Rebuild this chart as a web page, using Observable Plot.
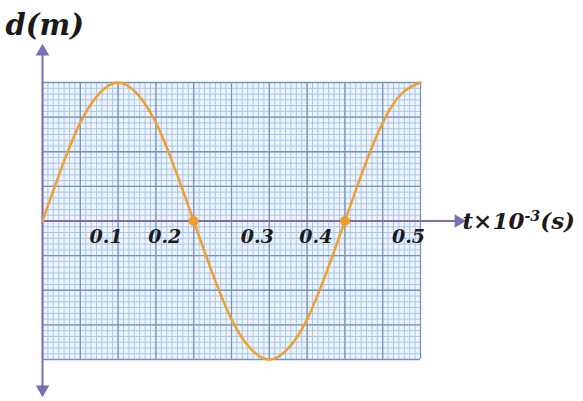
<!DOCTYPE html>
<html>
<head>
<meta charset="utf-8">
<script src="https://cdn.jsdelivr.net/npm/d3@7"></script>
<script src="https://cdn.jsdelivr.net/npm/@observablehq/plot@0.6"></script>
<style>
  html, body { margin: 0; padding: 0; background: #ffffff; }
  #chart svg { display: block; }
</style>
</head>
<body>
<div id="chart"></div>
<script>
// Displacement d (m) against time t (×10⁻³ s), sampled every 0.025
const times = [0, 0.025, 0.05, 0.075, 0.1, 0.125, 0.15, 0.175, 0.2, 0.225, 0.25,
               0.275, 0.3, 0.325, 0.35, 0.375, 0.4, 0.425, 0.45, 0.475, 0.5];
const displacement = [0, 0.38, 0.71, 0.92, 1, 0.92, 0.71, 0.38, 0, -0.38, -0.71,
                      -0.92, -1, -0.92, -0.71, -0.38, 0, 0.38, 0.71, 0.92, 1];

// Tick labels along the time axis
const tickValues = [0.1, 0.2, 0.3, 0.4, 0.5];
const tickLabels = ["0.1", "0.2", "0.3", "0.4", "0.5"];

// Times where the wave crosses the axis (marked with dots)
const crossings = [0.2, 0.4];

// Axis titles; the time title is split so the exponent can be raised
const yTitle = "d(m)";
const xTitleParts = ["t×10", "-3", "(s)"];
const xTitle = xTitleParts.join("");

const wave = times.map((t, i) => ({t, d: displacement[i]}));
const ticks = tickValues.map((t, i) => ({t, label: tickLabels[i], crossing: crossings.includes(t)}));

// Graph-paper grid: 10 major columns of 7, 8 major rows of 6
const majorX = d3.range(0, 10 + 1).map(i => i * 0.05);
const minorX = d3.range(0, 70 + 1).map(i => i * 0.05 / 7);
const majorY = d3.range(0, 8 + 1).map(i => -1 + i * 0.25);
const minorY = d3.range(0, 48 + 1).map(i => -1 + i * 0.25 / 6);

const serif = "DejaVu Serif, serif";
const axisColor = "#7f6db4";
const waveColor = "#f0a030";
const ink = "#1a1a1a";
const labelFont = {fontFamily: serif, fontWeight: "bold", fontStyle: "italic", fill: ink};

const chart = Plot.plot({
  width: 583,
  height: 401,
  marginLeft: 42,
  marginRight: 163,
  marginTop: 82,
  marginBottom: 42,
  x: {domain: [0, 0.5], axis: null},
  y: {domain: [-1, 1], axis: null},
  style: {background: "#ffffff", overflow: "visible"},
  marks: [
    Plot.frame({fill: "#eef4fc", stroke: null}),
    Plot.ruleX(minorX, {stroke: "#a9c5e8", strokeWidth: 1}),
    Plot.ruleY(minorY, {stroke: "#a9c5e8", strokeWidth: 1}),
    Plot.ruleX(majorX, {stroke: "#7594c3", strokeWidth: 1.3}),
    Plot.ruleY(majorY, {stroke: "#7594c3", strokeWidth: 1.3}),

    // axes, extended past the grid, with triangular heads
    Plot.arrow([{x1: 0, y1: 0, x2: 0.5, y2: 0}], {
      x1: "x1", y1: "y1", x2: "x2", y2: "y2", insetEnd: -36, headLength: 0,
      stroke: axisColor, strokeWidth: 2
    }),
    Plot.arrow([{x1: 0, y1: -1, x2: 0, y2: 1}], {
      x1: "x1", y1: "y1", x2: "x2", y2: "y2", insetStart: -28, insetEnd: -30, headLength: 0,
      stroke: axisColor, strokeWidth: 2
    }),
    Plot.dot([{x: 0.5, y: 0}], {x: "x", y: "y", dx: 38, symbol: "triangle", rotate: 90, r: 5, fill: axisColor, stroke: null}),
    Plot.dot([{x: 0, y: 1}], {x: "x", y: "y", dy: -31, symbol: "triangle", rotate: 0, r: 5, fill: axisColor, stroke: null}),
    Plot.dot([{x: 0, y: -1}], {x: "x", y: "y", dy: 30, symbol: "triangle", rotate: 180, r: 5, fill: axisColor, stroke: null}),

    // the wave
    Plot.line(wave, {x: "t", y: "d", curve: "natural", stroke: waveColor, strokeWidth: 2.5}),
    Plot.dot(crossings.map(t => ({t, d: 0})), {x: "t", y: "d", r: 5, fill: "#f39a2c", stroke: null}),

    // tick labels (the ones at crossings are nudged clear of the dots)
    Plot.text(ticks.filter(d => !d.crossing), {
      x: "t", y: () => 0, text: "label", dx: -12, dy: 22, lineAnchor: "bottom", fontSize: 19, ...labelFont
    }),
    Plot.text(ticks.filter(d => d.crossing), {
      x: "t", y: () => 0, text: "label", dx: -29, dy: 22, lineAnchor: "bottom", fontSize: 19, ...labelFont
    }),

    // axis titles
    Plot.text([xTitle], {
      x: () => 0.5, y: () => 0, text: d => d, dx: 42, dy: 8, lineAnchor: "bottom", textAnchor: "start",
      fontSize: 23, ...labelFont
    }),
    Plot.text([yTitle], {
      frameAnchor: "top-left", text: d => d, dx: -37, dy: -48, lineAnchor: "bottom", textAnchor: "start",
      fontSize: 29, ...labelFont
    })
  ]
});

// Raise the exponent in the time title
d3.select(chart).selectAll("text")
  .filter(function () { return this.textContent === xTitle; })
  .each(function () {
    const t = d3.select(this);
    t.text(null);
    t.append("tspan").text(xTitleParts[0]);
    t.append("tspan").attr("font-size", "0.62em").attr("dy", "-0.55em").text(xTitleParts[1]);
    t.append("tspan").attr("dy", "0.34em").text(xTitleParts[2]);
  });

document.getElementById("chart").append(chart);
</script>
</body>
</html>
